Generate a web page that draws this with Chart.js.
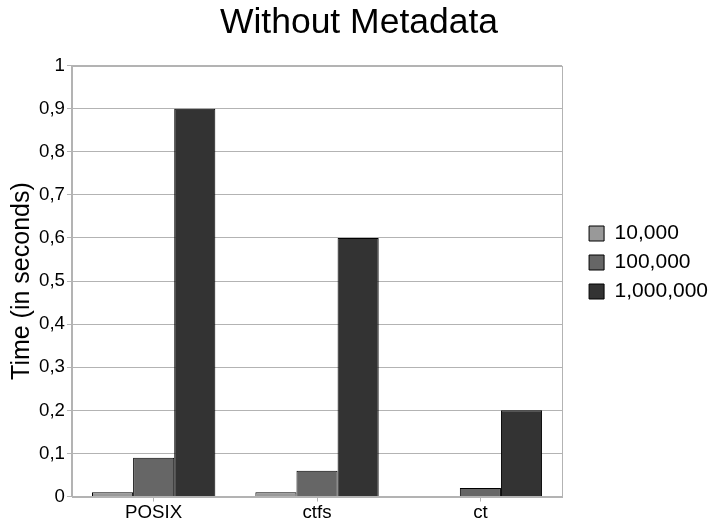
<!DOCTYPE html>
<html>
<head>
<meta charset="utf-8">
<script src="https://cdn.jsdelivr.net/npm/chart.js@4"></script>
<style>
  html, body { margin: 0; padding: 0; background: #fff; }
  #wrap { width: 718px; height: 525px; }
</style>
</head>
<body>
<div id="wrap"><canvas id="chart" width="718" height="525"></canvas></div>
<script>
// categories and series
const categories = ['POSIX', 'ctfs', 'ct'];
const series10k = [0.01, 0.01, 0];
const series100k = [0.09, 0.06, 0.02];
const series1m = [0.9, 0.6, 0.2];
const seriesNames = ['10,000', '100,000', '1,000,000'];
const seriesColors = ['#999999', '#666666', '#333333'];

const gridColor = '#b3b3b3';
const font = "'Liberation Sans', Arial, sans-serif";

// draw the frame around the plot area
const frame = {
  id: 'frame',
  afterDatasetsDraw(chart) {
    const a = chart.chartArea;
    const ctx = chart.ctx;
    ctx.save();
    ctx.strokeStyle = gridColor;
    ctx.lineWidth = 1;
    ctx.strokeRect(Math.round(a.left) + 0.5, Math.round(a.top) + 0.5,
      Math.round(a.right - a.left), Math.round(a.bottom - a.top));
    ctx.restore();
  }
};

const values = [series10k, series100k, series1m];

const ctx = document.getElementById('chart').getContext('2d');
new Chart(ctx, {
  type: 'bar',
  data: {
    labels: categories,
    datasets: values.map((v, i) => ({
      label: seriesNames[i],
      data: v,
      backgroundColor: seriesColors[i],
      borderColor: '#000000',
      borderWidth: 1,
      categoryPercentage: 0.755,
      barPercentage: 1.0
    }))
  },
  options: {
    responsive: false,
    animation: false,
    layout: { padding: { left: 0, right: 0, top: 1, bottom: 1 } },
    plugins: {
      title: {
        display: true,
        text: 'Without Metadata',
        color: '#000',
        font: { family: font, size: 35.5, weight: 'normal' },
        padding: { top: 1, bottom: 21 }
      },
      legend: {
        position: 'right',
        maxWidth: 160,
        labels: {
          color: '#000',
          font: { family: font, size: 21 },
          boxWidth: 15,
          boxHeight: 15,
          padding: 8
        }
      },
      tooltip: { enabled: false }
    },
    scales: {
      x: {
        grid: {
          display: true,
          drawOnChartArea: false,
          offset: false,
          color: gridColor,
          tickLength: 5
        },
        border: { color: gridColor },
        ticks: {
          color: '#000',
          font: { family: font, size: 18.7 },
          padding: 0
        }
      },
      y: {
        min: 0,
        max: 1,
        ticks: {
          stepSize: 0.1,
          color: '#000',
          font: { family: font, size: 18.7 },
          padding: 2,
          callback: v => {
            const r = Math.round(v * 10) / 10;
            return (r === 0 || r === 1) ? String(r) : r.toFixed(1).replace('.', ',');
          }
        },
        grid: { color: gridColor, tickLength: 5 },
        border: { color: gridColor },
        title: {
          display: true,
          text: 'Time (in seconds)',
          color: '#000',
          font: { family: font, size: 25 },
          padding: { top: 7, bottom: 0 }
        }
      },
      // empty spacer on the right, keeps a gap before the legend
      spacer: {
        position: 'right',
        display: true,
        ticks: { display: false },
        grid: { display: false },
        border: { display: false },
        afterFit: s => { s.width = 19; }
      }
    }
  },
  plugins: [frame]
});
</script>
</body>
</html>
